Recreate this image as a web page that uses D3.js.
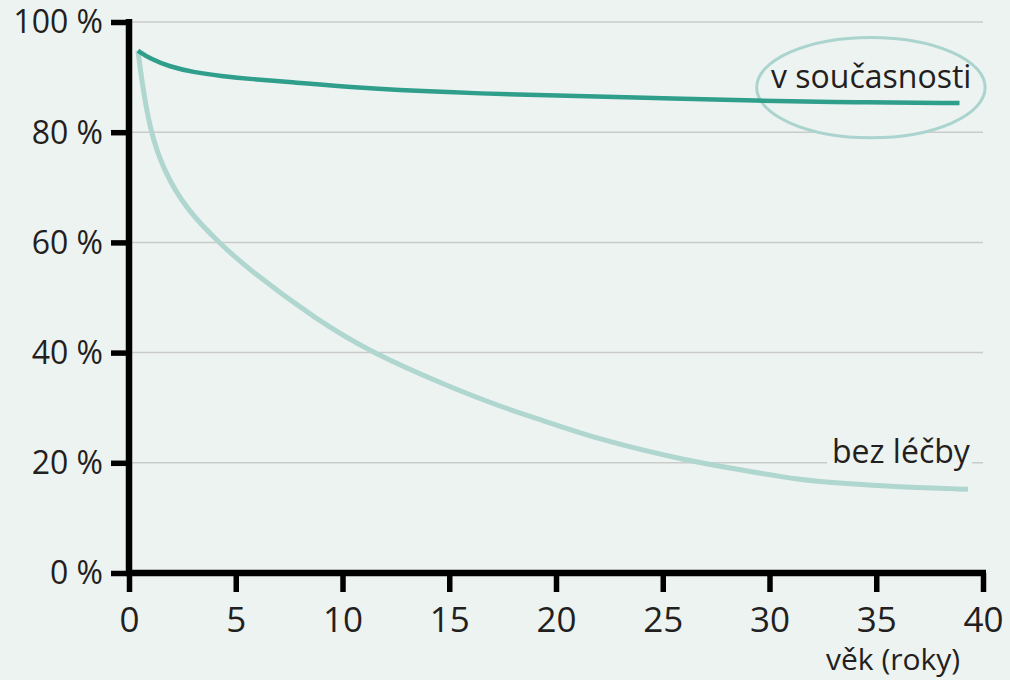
<!DOCTYPE html>
<html>
<head>
<meta charset="utf-8">
<script src="https://cdn.jsdelivr.net/npm/d3@7/dist/d3.min.js"></script>
<style>
  html, body { margin: 0; padding: 0; background: #edf3f1; }
  svg { display: block; }
  text { font-family: "Open Sans", "Noto Sans", sans-serif; fill: #231f20; }
</style>
</head>
<body>
<svg id="chart" width="1010" height="680"></svg>
<script>
// ---- data ----
const xTicks = [0, 5, 10, 15, 20, 25, 30, 35, 40];
const yTicks = [0, 20, 40, 60, 80, 100];
const yTickLabels = ["0 %", "20 %", "40 %", "60 %", "80 %", "100 %"];

const currentYears = [0.42, 1.0, 1.9, 3.0, 4.3, 5.8, 7.4, 10.5, 15.2, 18.3, 23.6, 29.6, 34.0, 38.9];
const currentPct   = [94.8, 93.3, 91.9, 90.9, 90.2, 89.6, 89.2, 88.1, 87.2, 86.8, 86.3, 85.7, 85.4, 85.3];

const untreatedYears = [0.42, 0.59, 0.98, 1.61, 2.7, 4.26, 5.6, 8.8, 11.4, 15.0, 17.4, 19.3, 22.1, 26.1, 29.0, 31.4, 33.3, 36.0, 39.3];
const untreatedPct   = [94.8, 89.5, 80.4, 73.1, 65.9, 59.8, 55.1, 45.9, 39.9, 33.8, 30.2, 27.8, 24.1, 20.4, 18.5, 16.9, 16.3, 15.6, 15.2];

const seriesLabels = ["v současnosti", "bez léčby"];
const xAxisTitle = "věk (roky)";

// ---- layout ----
const bg = "#edf3f1";
const svg = d3.select("#chart");
svg.append("rect").attr("width", 1010).attr("height", 680).attr("fill", bg);

const x = d3.scaleLinear().domain([0, 40]).range([129, 983]);
const y = d3.scaleLinear().domain([0, 100]).range([573, 22]);

// gridlines
svg.append("g").selectAll("line")
  .data(yTicks.filter(d => d > 0))
  .join("line")
  .attr("x1", x(0)).attr("x2", x(40))
  .attr("y1", d => y(d)).attr("y2", d => y(d))
  .attr("stroke", "#c9cbc9").attr("stroke-width", 1.5);

// ellipse annotation (covers gridline)
svg.append("ellipse")
  .attr("cx", x(34.75)).attr("cy", y(88.1))
  .attr("rx", x(5.35) - x(0)).attr("ry", y(0) - y(9.1))
  .attr("fill", bg).attr("stroke", "#aad4cd").attr("stroke-width", 3);

// label background for "bez léčby"
svg.append("rect")
  .attr("x", 827).attr("y", y(20) - 22).attr("width", 145).attr("height", 34)
  .attr("fill", bg);

// curves
const line = d3.line().x(d => x(d[0])).y(d => y(d[1])).curve(d3.curveBasis);
svg.append("path")
  .datum(untreatedYears.map((v, i) => [v, untreatedPct[i]]))
  .attr("d", line).attr("fill", "none")
  .attr("stroke", "#afd6cf").attr("stroke-width", 5);
svg.append("path")
  .datum(currentYears.map((v, i) => [v, currentPct[i]]))
  .attr("d", line).attr("fill", "none")
  .attr("stroke", "#2f9e8b").attr("stroke-width", 4.5);

// axes
const yAxis = d3.axisLeft(y).tickValues(yTicks).tickFormat((d, i) => yTickLabels[i]).tickSize(18).tickPadding(8);
const gy = svg.append("g").attr("transform", `translate(${x(0)},0)`).call(yAxis);
gy.select(".domain").remove();
gy.selectAll(".tick line").attr("stroke", "#000").attr("stroke-width", 5.5);
gy.selectAll(".tick text").attr("font-size", 32).attr("dy", "0.34em").attr("fill", "#231f20")
  .attr("font-family", "'Open Sans', sans-serif");

const xAxis = d3.axisBottom(x).tickValues(xTicks).tickSize(19).tickPadding(15);
const gx = svg.append("g").attr("transform", `translate(0,${y(0)})`).call(xAxis);
gx.select(".domain").remove();
gx.selectAll(".tick line").attr("stroke", "#000").attr("stroke-width", 5.5);
gx.selectAll(".tick text").attr("font-size", 35).attr("fill", "#231f20")
  .attr("font-family", "'Open Sans', sans-serif");

// axis lines
svg.append("line").attr("x1", x(0)).attr("x2", x(0)).attr("y1", y(100) - 3).attr("y2", y(0) + 3)
  .attr("stroke", "#000").attr("stroke-width", 6.5);
svg.append("line").attr("x1", x(0) - 3).attr("x2", x(40) + 3).attr("y1", y(0)).attr("y2", y(0))
  .attr("stroke", "#000").attr("stroke-width", 6.5);

// labels
svg.append("text").attr("x", 771).attr("y", 88).attr("font-size", 32).text(seriesLabels[0]);
svg.append("text").attr("x", 832).attr("y", 463).attr("font-size", 32).text(seriesLabels[1]);
svg.append("text").attr("x", 826).attr("y", 670).attr("font-size", 30).text(xAxisTitle);
</script>
</body>
</html>
